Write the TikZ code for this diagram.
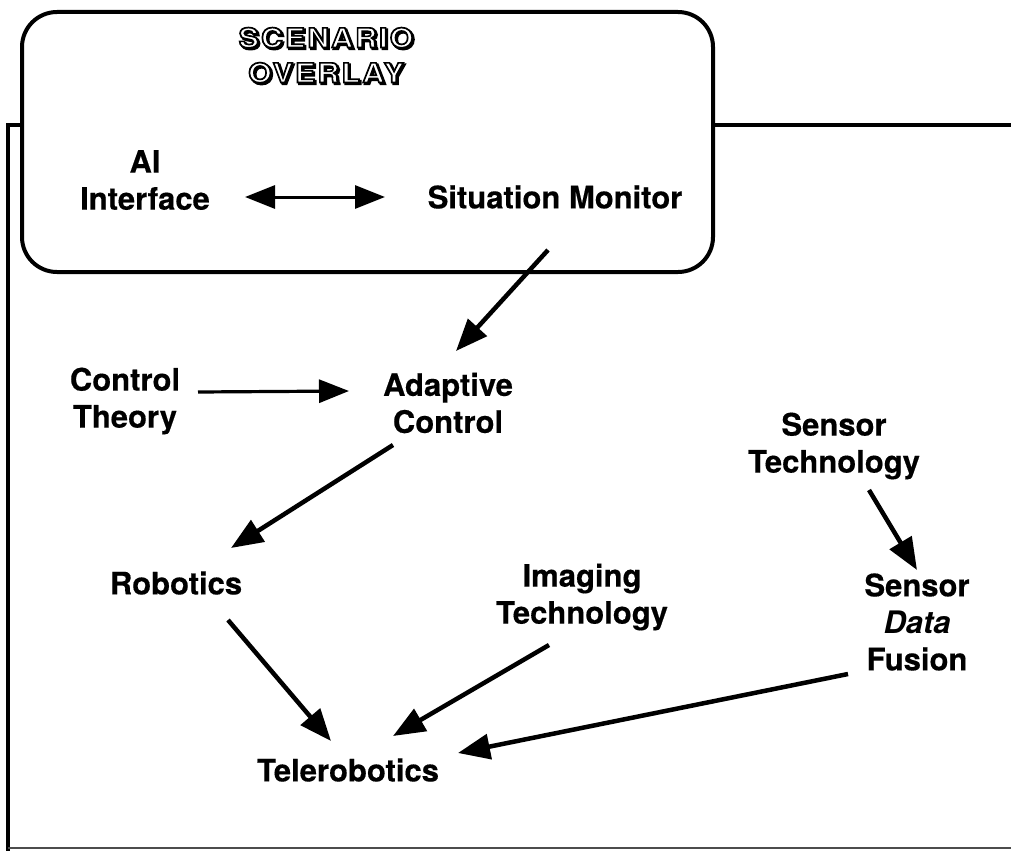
\documentclass[tikz,border=0pt]{standalone}
\usepackage{fontspec}
\setmainfont{TeX Gyre Heros}[BoldFeatures={FakeBold=0.4}]
\newfontfamily\titlefont{TeX Gyre Heros}[FakeStretch=1.12,LetterSpace=8]
\usetikzlibrary{arrows.meta,calc}
\newcommand\outl[1]{\rlap{\kern1.6pt\raisebox{-1.6pt}{\special{pdf:literal direct 0 G 0 g 2 w 2 Tr}#1\special{pdf:literal direct 0 Tr}}}%
\textcolor{white}{\special{pdf:literal direct 0 G 1.7 w 2 Tr}#1\special{pdf:literal direct 0 Tr}}}
\begin{document}
\begin{tikzpicture}[x=1pt,y=-1pt,
  lbl/.style={align=center,inner sep=0pt,font=\fontsize{31}{37}\selectfont\bfseries},
  ttl/.style={align=center,inner sep=0pt,font=\titlefont\fontsize{27}{35}\selectfont\bfseries},
  arr/.style={line width=4.5pt,-{Triangle[length=32pt,width=25pt]}},
  harr/.style={line width=3.2pt,-{Triangle[length=30pt,width=23pt]}},
  dbl/.style={line width=3pt,{Triangle[length=30pt,width=23pt]}-{Triangle[length=30pt,width=23pt]}},
  frame/.style={line width=4pt}]
\useasboundingbox (0,0) rectangle (1011,851);
% frame and overlay box
\draw[frame] (22,125) -- (8,125) -- (8,851);
\draw[frame] (713,125) -- (1011,125);
\draw[line width=2.5pt,black!70] (8,848) -- (1011,848);
\draw[frame,rounded corners=35pt,fill=white] (22,12) rectangle (713,272);
% title
\node[ttl] (title) at (326,56) {\outl{SCENARIO}\\\outl{OVERLAY}};
% nodes
\node[lbl] (ai) at (145,180) {AI\\Interface};
\node[lbl] (sm) at (555,197) {Situation Monitor};
\node[lbl] (ct) at (125,401) {Control\\Theory};
\node[lbl] (ad) at (448,403) {Adaptive\\Control};
\node[lbl] (st) at (834,446) {Sensor\\Technology};
\node[lbl] (rob) at (176,583) {Robotics};
\node[lbl] (im) at (582,597) {Imaging\\Technology};
\node[lbl] (fu) at (917,622) {Sensor\\{\itshape Data}\\Fusion};
\node[lbl] (tele) at (348,770) {Telerobotics};
% connectors
\draw[dbl] ($(ai)+(100,17)$) -- ($(sm)+(-170,0)$);
\draw[arr] ($(sm)+(-7,53)$) -- ($(ad)+(8,-52)$);
\draw[harr] ($(ct)+(73,-9)$) -- ($(ad)+(-99,-12)$);
\draw[arr] ($(ad)+(-55,42)$) -- ($(rob)+(55,-35)$);
\draw[arr] ($(rob)+(52,37)$) -- ($(tele)+(-17,-29)$);
\draw[arr] ($(im)+(-33,48)$) -- ($(tele)+(45,-34)$);
\draw[arr] ($(fu)+(-69,52)$) -- ($(tele)+(110,-17)$);
\draw[arr] ($(st)+(35,44)$) -- ($(fu)+(0,-52)$);
\end{tikzpicture}
\end{document}
